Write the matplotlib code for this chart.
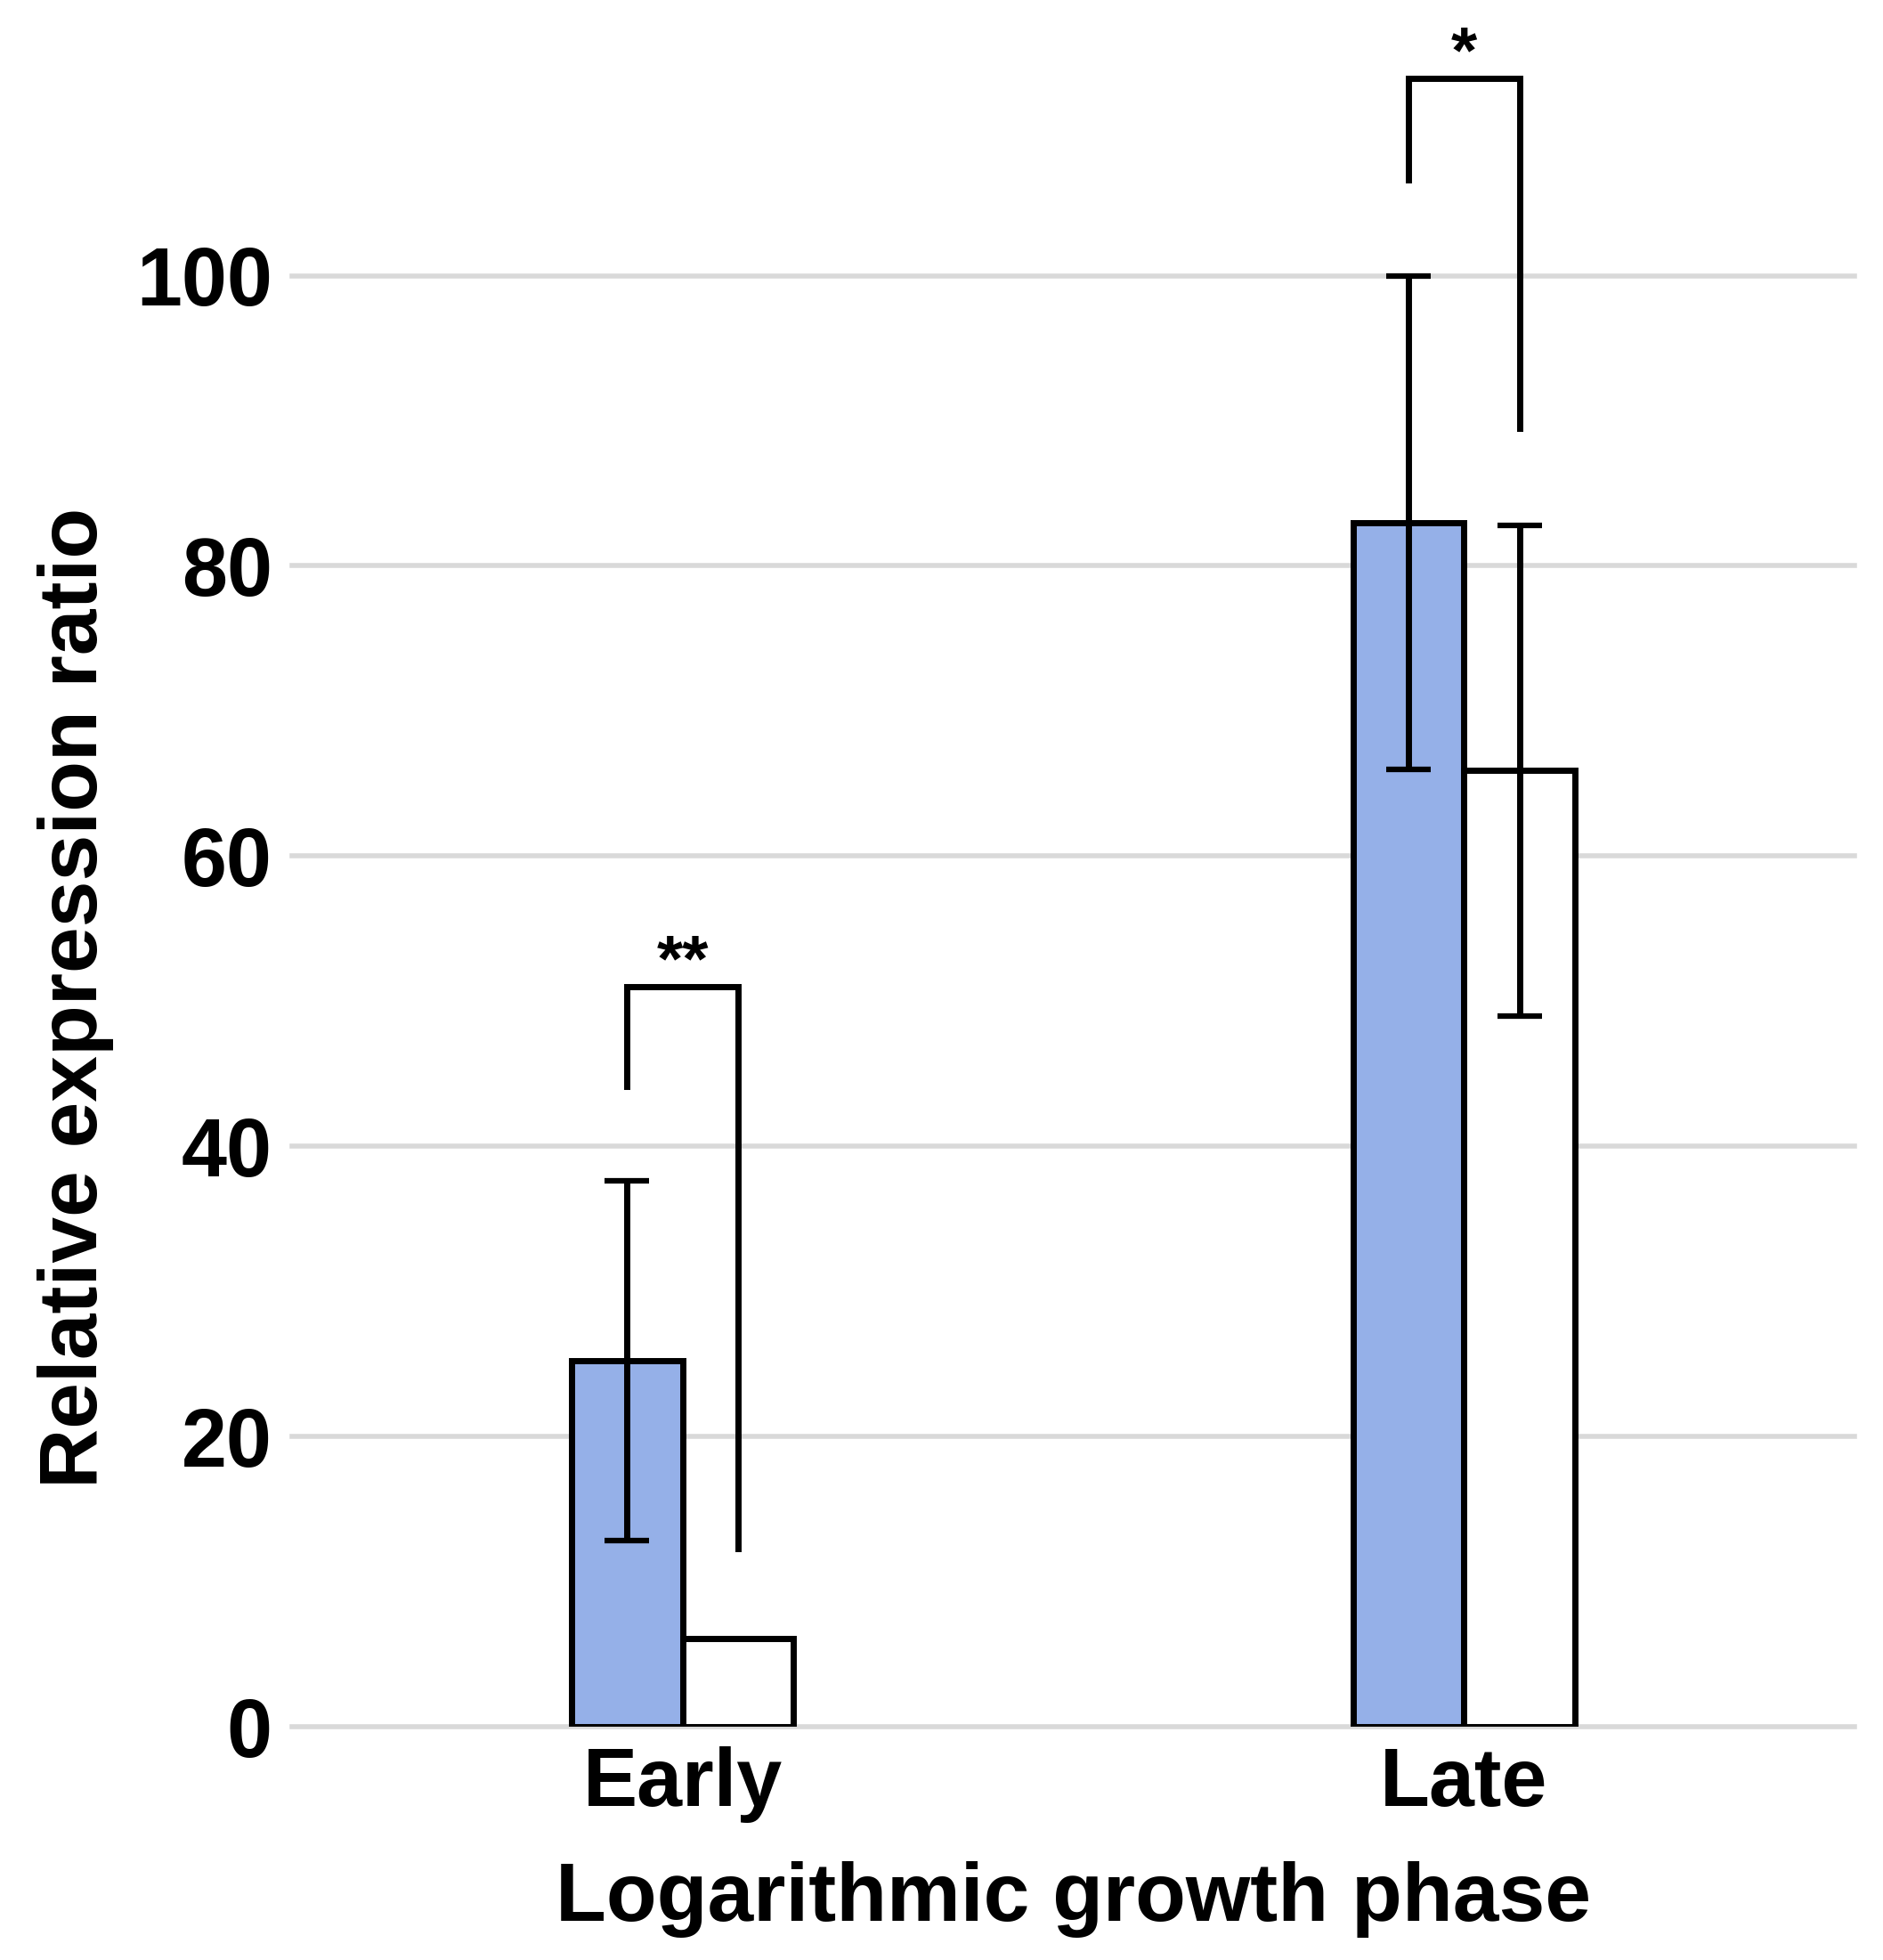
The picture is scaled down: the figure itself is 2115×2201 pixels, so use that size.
import numpy as np
import matplotlib
matplotlib.use("Agg")
import matplotlib.pyplot as plt

plt.rcParams['font.family'] = ['Liberation Sans', 'DejaVu Sans']
plt.rcParams['font.weight'] = 'bold'

phases = ["Early", "Late"]
blue_vals = [25.2, 83.0]
blue_err = [12.4, 17.0]
white_vals = [6.1, 65.9]
white_err = [0.0, 16.9]
# significance brackets: left leg bottom, top, right leg bottom, label
bracket_left = [44.1, 106.6]
bracket_top = [51.0, 113.6]
bracket_right = [12.3, 89.5]
bracket_text = ["**", "*"]
yticks = [0, 20, 40, 60, 80, 100]

W, H = 2115, 2201
fig = plt.figure(figsize=(W / 100, H / 100), dpi=100)
ax = fig.add_axes([328 / W, 262 / H, (2083 - 328) / W, (2201 - 262) / H])

x = np.arange(len(phases))
bw = 0.142

ax.bar(x - bw / 2, blue_vals, bw, color="#95b0e8", edgecolor="black", linewidth=5, zorder=2)
ax.bar(x + bw / 2, white_vals, bw, color="white", edgecolor="black", linewidth=5, zorder=2)

for xs, v, e in [(x - bw / 2, blue_vals, blue_err), (x + bw / 2, white_vals, white_err)]:
    for xi, vi, ei in zip(xs, v, e):
        if ei > 0:
            ax.errorbar(xi, vi, yerr=ei, fmt="none", ecolor="black", elinewidth=5,
                        capsize=18, capthick=4.5, zorder=3)

for i in range(len(phases)):
    xl = x[i] - bw / 2
    xr = x[i] + bw / 2
    ax.plot([xl, xl, xr, xr], [bracket_left[i], bracket_top[i], bracket_top[i], bracket_right[i]],
            color="black", lw=5, solid_joinstyle="miter", clip_on=False, zorder=4)
    ax.text(x[i], bracket_top[i] - 0.5, bracket_text[i], ha="center", va="bottom",
            fontsize=54, fontweight="bold", clip_on=False)

ax.set_xlim(-0.5, 1.5)
ax.set_ylim(0, 119)
ax.set_yticks(yticks)
ax.set_xticks(x)
ax.set_xticklabels(phases)
ax.yaxis.grid(True, color="#d9d9d9", linewidth=4, zorder=0)
for gl in ax.get_ygridlines():
    gl.set_clip_on(False)
ax.set_axisbelow(True)
for s in ax.spines.values():
    s.set_visible(False)
ax.tick_params(axis="both", length=0, labelsize=66, pad=16)
for lab in ax.get_xticklabels() + ax.get_yticklabels():
    lab.set_fontweight("bold")

ax.set_ylabel("Relative expression ratio", fontsize=67, fontweight="bold")
ax.yaxis.set_label_coords(-0.114, 0.422)
ax.set_xlabel("Logarithmic growth phase", fontsize=67, fontweight="bold", labelpad=31)

fig.savefig("out.png", dpi=100)
